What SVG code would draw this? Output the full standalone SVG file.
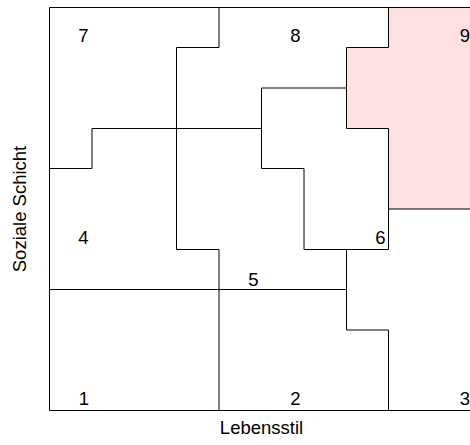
<svg xmlns="http://www.w3.org/2000/svg" width="470" height="445" viewBox="0 0 470 445">
<style>
.ln{fill:none;stroke:#000;stroke-width:1}
.lb{font-family:"Liberation Sans",Arial,sans-serif;font-size:18.5px;fill:#000;text-anchor:middle}
</style>
<rect width="470" height="445" fill="#fff"/>
<g id="region-9">
<path d="M388.5 7.5 H480 V209 H388.5 V128.5 H346.5 V47.5 H388.5 Z" fill="#fee0e0"/>
</g>
<g id="connectors">
<path class="ln" d="M49.5 7.5 H480 M49.5 7.5 V410.5 H480"/>
<path class="ln" d="M219 7.5 V47.5 H176.5 V249.5 H219 V410.5"/>
<path class="ln" d="M49.5 168.5 H92 V128.5 H261.5"/>
<path class="ln" d="M346.5 88 H261.5 V168.5 H304 V249.5 H388.5 V209"/>
<path class="ln" d="M388.5 7.5 V47.5 H346.5 V128.5 H388.5 V209 H480"/>
<path class="ln" d="M49.5 289.5 H346.5 M346.5 249.5 V330 H388.5 V410.5"/>
</g>
<g id="label-7"><text class="lb" x="83.5" y="41.5">7</text></g>
<g id="label-8"><text class="lb" x="295.5" y="41.5">8</text></g>
<g id="label-9"><text class="lb" x="465" y="41.5">9</text></g>
<g id="label-4"><text class="lb" x="83.5" y="244">4</text></g>
<g id="label-5"><text class="lb" x="253.5" y="285.5">5</text></g>
<g id="label-6"><text class="lb" x="380.3" y="244">6</text></g>
<g id="label-1"><text class="lb" x="84" y="405">1</text></g>
<g id="label-2"><text class="lb" x="295.5" y="405">2</text></g>
<g id="label-3"><text class="lb" x="465" y="405">3</text></g>
<g id="axis-x"><text class="lb" x="261.5" y="433.5">Lebensstil</text></g>
<g id="axis-y"><text class="lb" transform="translate(25.5 209) rotate(-90)">Soziale Schicht</text></g>
</svg>
